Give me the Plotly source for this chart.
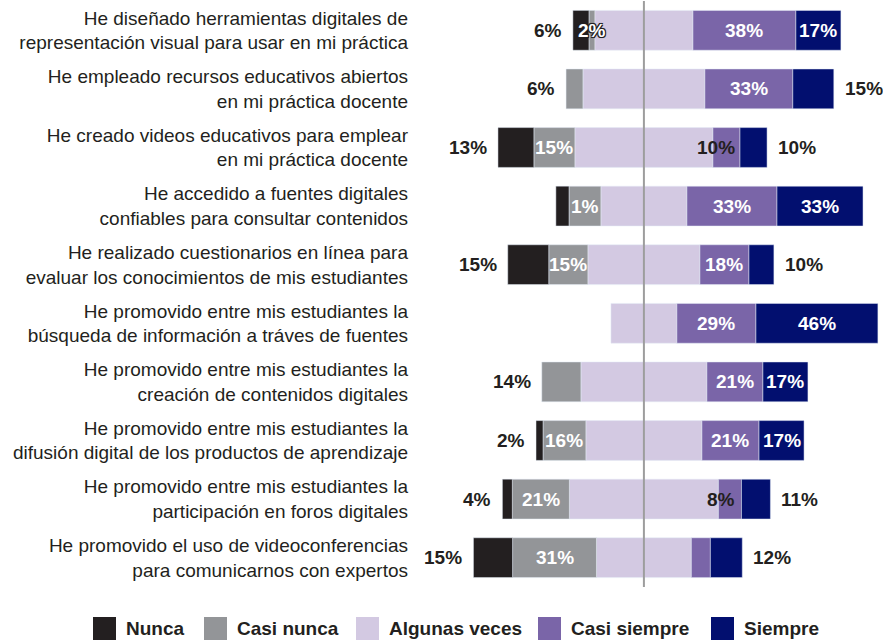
import plotly.graph_objects as go

categories = [
    "He diseñado herramientas digitales de<br>representación visual para usar en mi práctica",
    "He empleado recursos educativos abiertos<br>en mi práctica docente",
    "He creado videos educativos para emplear<br>en mi práctica docente",
    "He accedido a fuentes digitales<br>confiables para consultar contenidos",
    "He realizado cuestionarios en línea para<br>evaluar los conocimientos de mis estudiantes",
    "He promovido entre mis estudiantes la<br>búsqueda de información a tráves de fuentes",
    "He promovido entre mis estudiantes la<br>creación de contenidos digitales",
    "He promovido entre mis estudiantes la<br>difusión digital de los productos de aprendizaje",
    "He promovido entre mis estudiantes la<br>participación en foros digitales",
    "He promovido el uso de videoconferencias<br>para comunicarnos con expertos",
]

series_names = ["Nunca", "Casi nunca", "Algunas veces", "Casi siempre", "Siempre"]

nunca = [6.0, 0.0, 13.4, 4.9, 15.3, 0.0, 0.0, 2.6, 3.7, 14.6]
casi_nunca = [2.2, 6.3, 15.3, 11.9, 14.6, 0.0, 14.6, 16.0, 21.3, 31.3]
algunas_veces = [36.6, 45.5, 51.5, 32.1, 41.8, 24.6, 47.0, 43.3, 55.6, 35.4]
casi_siempre = [38.4, 32.8, 10.1, 33.6, 18.3, 29.5, 20.9, 21.3, 8.6, 7.1]
siempre = [16.8, 15.3, 10.1, 32.1, 9.3, 45.5, 16.8, 16.8, 10.8, 11.9]

nunca_labels = ["6%", "", "13%", "", "15%", "", "", "2%", "4%", "15%"]
casi_nunca_labels = ["2%", "6%", "15%", "1%", "15%", "", "14%", "16%", "21%", "31%"]
casi_siempre_labels = ["38%", "33%", "10%", "33%", "18%", "29%", "21%", "21%", "8%", ""]
siempre_labels = ["17%", "15%", "10%", "33%", "10%", "46%", "17%", "17%", "11%", "12%"]

colors = {
    "Nunca": "#231f20",
    "Casi nunca": "#939598",
    "Algunas veces": "#d3c9e2",
    "Casi siempre": "#7a65a8",
    "Siempre": "#020f6f",
}
DARK = "#231f20"
FONT = "Liberation Sans"

fig = go.Figure()
half = [a / 2 for a in algunas_veces]

# negative side (closest to zero first)
fig.add_trace(go.Bar(y=categories, x=[-h for h in half], orientation="h",
                     marker_color=colors["Algunas veces"], showlegend=False, hoverinfo="skip"))
fig.add_trace(go.Bar(y=categories, x=[-v for v in casi_nunca], orientation="h",
                     marker_color=colors["Casi nunca"], showlegend=False, hoverinfo="skip"))
fig.add_trace(go.Bar(y=categories, x=[-v for v in nunca], orientation="h",
                     marker_color=colors["Nunca"], showlegend=False, hoverinfo="skip"))
# positive side
fig.add_trace(go.Bar(y=categories, x=half, orientation="h",
                     marker_color=colors["Algunas veces"], showlegend=False, hoverinfo="skip"))
fig.add_trace(go.Bar(y=categories, x=casi_siempre, orientation="h",
                     marker_color=colors["Casi siempre"], showlegend=False, hoverinfo="skip"))
fig.add_trace(go.Bar(y=categories, x=siempre, orientation="h",
                     marker_color=colors["Siempre"], showlegend=False, hoverinfo="skip"))

annotations = []
LBL_SIZE = 19


def lab(text, x, y, color, xanchor="center", xshift=0, halo=False):
    font = dict(family=FONT, size=LBL_SIZE, color=color, weight="bold")
    if halo:
        font["shadow"] = ("-1px -1px 0 #231f20, 1px -1px 0 #231f20, -1px 1px 0 #231f20, "
                          "1px 1px 0 #231f20, 0 0 2px #231f20")
    annotations.append(dict(text=text, x=x, y=y, xref="x", yref="y", showarrow=False,
                            xanchor=xanchor, yanchor="middle", xshift=xshift, font=font))


for i, cat in enumerate(categories):
    h = half[i]
    left_end = -(h + casi_nunca[i] + nunca[i])
    right_end = h + casi_siempre[i] + siempre[i]
    # Nunca
    if nunca_labels[i]:
        lab(nunca_labels[i], left_end, cat, DARK, "right", -9)
    # Casi nunca
    if casi_nunca_labels[i]:
        if nunca[i] == 0:
            lab(casi_nunca_labels[i], left_end, cat, DARK, "right", -9)
        else:
            cx = -(h + casi_nunca[i] / 2)
            lab(casi_nunca_labels[i], cx, cat, "white", halo=casi_nunca[i] < 5)
    # Casi siempre
    if casi_siempre_labels[i]:
        if casi_siempre[i] >= 15:
            lab(casi_siempre_labels[i], h + casi_siempre[i] / 2, cat, "white")
        else:
            lab(casi_siempre_labels[i], h, cat, DARK, "center", 3)
    # Siempre
    if siempre_labels[i]:
        if siempre[i] >= 16:
            lab(siempre_labels[i], h + casi_siempre[i] + siempre[i] / 2, cat, "white")
        else:
            lab(siempre_labels[i], right_end, cat, DARK, "left", 9)

# geometry helpers for manual legend (pixel -> paper)
W, Hh = 883, 642
ML, MR, MT, MB = 415, 0, 1, 55
PW, PH = W - ML - MR, Hh - MT - MB


def px(xp):
    return (xp - ML) / PW


def py(yp):
    return (Hh - MB - yp) / PH


shapes = [dict(type="line", x0=0, x1=0, xref="x", yref="paper", y0=0, y1=1,
               line=dict(color="#9d9d9d", width=2), layer="above")]

legend_sq_x = [93, 204, 356, 538, 711]
for name, sx in zip(series_names, legend_sq_x):
    shapes.append(dict(type="rect", xref="paper", yref="paper",
                       x0=px(sx), x1=px(sx + 23), y0=py(640), y1=py(617),
                       fillcolor=colors[name], line=dict(width=0)))
    annotations.append(dict(text=name, xref="paper", yref="paper", x=px(sx + 31), y=py(628.5),
                            xanchor="left", yanchor="middle", showarrow=False,
                            font=dict(family=FONT, size=19, color=DARK, weight="bold")))

fig.update_layout(
    barmode="relative",
    bargap=0.32,
    width=W, height=Hh,
    margin=dict(l=ML, r=MR, t=MT, b=MB, autoexpand=False),
    plot_bgcolor="white", paper_bgcolor="white",
    showlegend=False,
    xaxis=dict(range=[-85.4, 89.2], showgrid=False, zeroline=False, showticklabels=False,
               showline=False, fixedrange=True),
    yaxis=dict(autorange="reversed", showgrid=False, zeroline=False, showline=False,
               ticks="", ticklabelstandoff=6, fixedrange=True,
               tickfont=dict(family=FONT, size=19, color=DARK)),
    annotations=annotations,
    shapes=shapes,
)

fig.write_html("out.html",
               config={"displayModeBar": False},
               post_script="document.body.style.margin='0';document.body.style.overflow='hidden';")
